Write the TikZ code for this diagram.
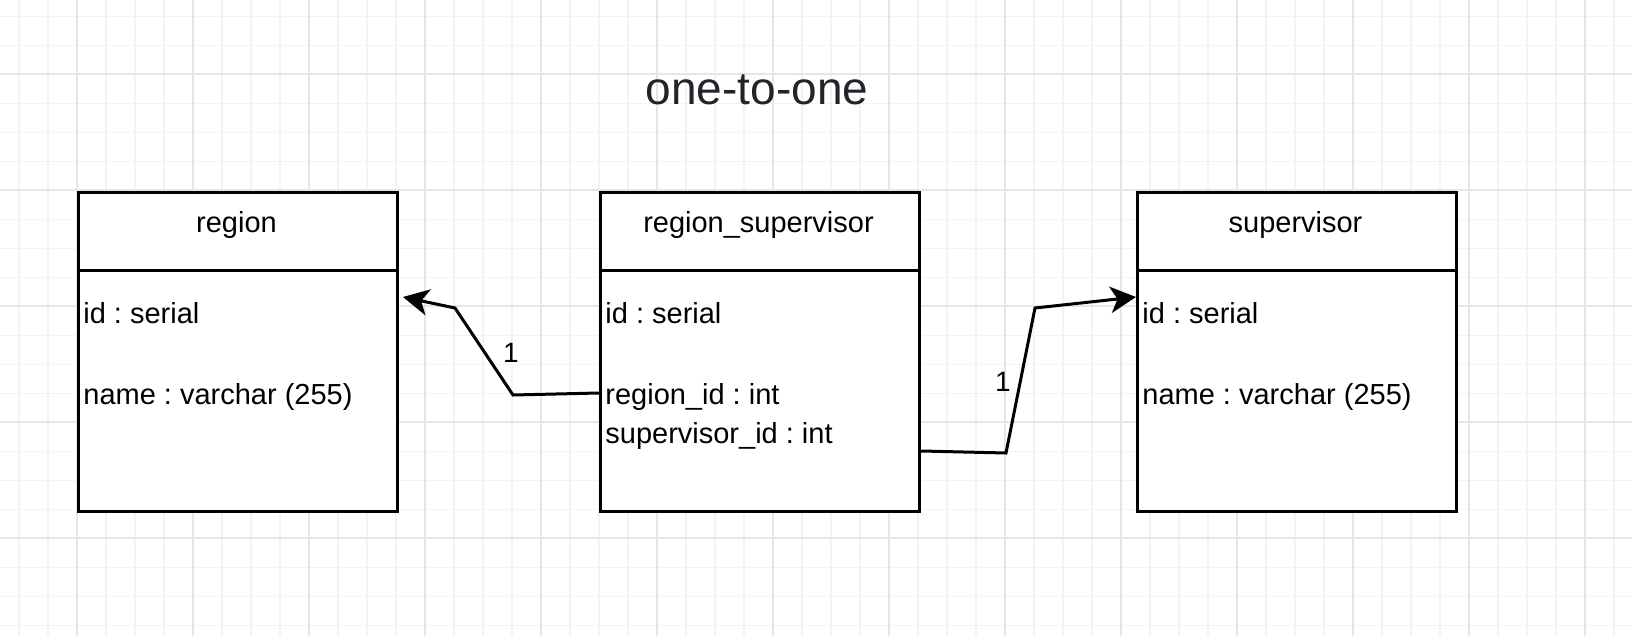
\documentclass[tikz,border=0pt]{standalone}
\usepackage{fontspec}
\setmainfont{Liberation Sans}
\usetikzlibrary{arrows.meta}
\definecolor{gridmajor}{HTML}{E6E6E6}
\definecolor{gridminor}{HTML}{F3F3F3}
\definecolor{titlegray}{HTML}{212529}
\frenchspacing

\begin{document}
\begin{tikzpicture}[x=0.5pt, y=-0.5pt,
  tbl/.style = {draw, line width=1.5pt, fill=white, minimum width=159.5pt, minimum height=159.5pt, inner sep=0pt, anchor=north west},
  tblhead/.style = {anchor=base, font=\fontsize{14.5}{17}\selectfont, inner sep=0pt},
  field/.style = {anchor=base west, font=\fontsize{14.5}{17}\selectfont, inner sep=0pt},
  mult/.style = {font=\fontsize{14}{17}\selectfont, inner sep=0pt},
  fk/.style = {line width=1.5pt, -{Stealth[length=12.8pt, width=13.2pt, inset=3.5pt]}}]
\fill[white] (0,0) rectangle (1632,636);
\useasboundingbox (0,0) rectangle (1632,636);
\foreach \i in {0,...,55} \draw[gridminor, line width=0.75pt] (19+29*\i,0) -- (19+29*\i,636);
\foreach \j in {0,...,21} \draw[gridminor, line width=0.75pt] (0,16.3+29*\j) -- (1632,16.3+29*\j);
\foreach \i in {0,...,13} \draw[gridmajor, line width=1pt] (77+116*\i,0) -- (77+116*\i,636);
\foreach \j in {0,...,4} \draw[gridmajor, line width=1pt] (0,74.3+116*\j) -- (1632,74.3+116*\j);
\node[anchor=base, font=\fontsize{23}{27}\selectfont, text=titlegray, inner sep=0pt] (title) at (757,105) {one-to-one};
\node[tbl] (reg) at (77,191) {};
\node[tbl] (rs) at (599,191) {};
\node[tbl] (sup) at (1136,191) {};
\foreach \t in {reg,rs,sup}
  \draw[line width=1.5pt] ([yshift=-40pt]\t.north west) -- ([yshift=-40pt]\t.north east);
\node[tblhead] (reghead) at (236.5,233) {region};
\node[tblhead] (rshead) at (758.5,233) {region\_supervisor};
\node[tblhead] (suphead) at (1295.5,233) {supervisor};
\node[field] (regid) at (83,323) {id : serial};
\node[field] (regname) at (83,404) {name : varchar (255)};
\node[field] (rsid) at (605,323) {id : serial};
\node[field] (rsreg) at (605,404) {region\_id : int};
\node[field] (rssup) at (605,443) {supervisor\_id : int};
\node[field] (supid) at (1142,323) {id : serial};
\node[field] (supname) at (1142,404) {name : varchar (255)};
\coordinate (regtip) at (403,297);
\draw[fk] (rs.west |- 0,393) -- (513,395) -- (455,308) -- (regtip);
\draw[fk] (rs.east |- 0,451) -- (1006,453) -- (1035,308) -- (sup.west |- 0,297);
\node[mult] (regone) at (511,353) {1};
\node[mult] (supone) at (1003,382) {1};
\end{tikzpicture}
\end{document}
